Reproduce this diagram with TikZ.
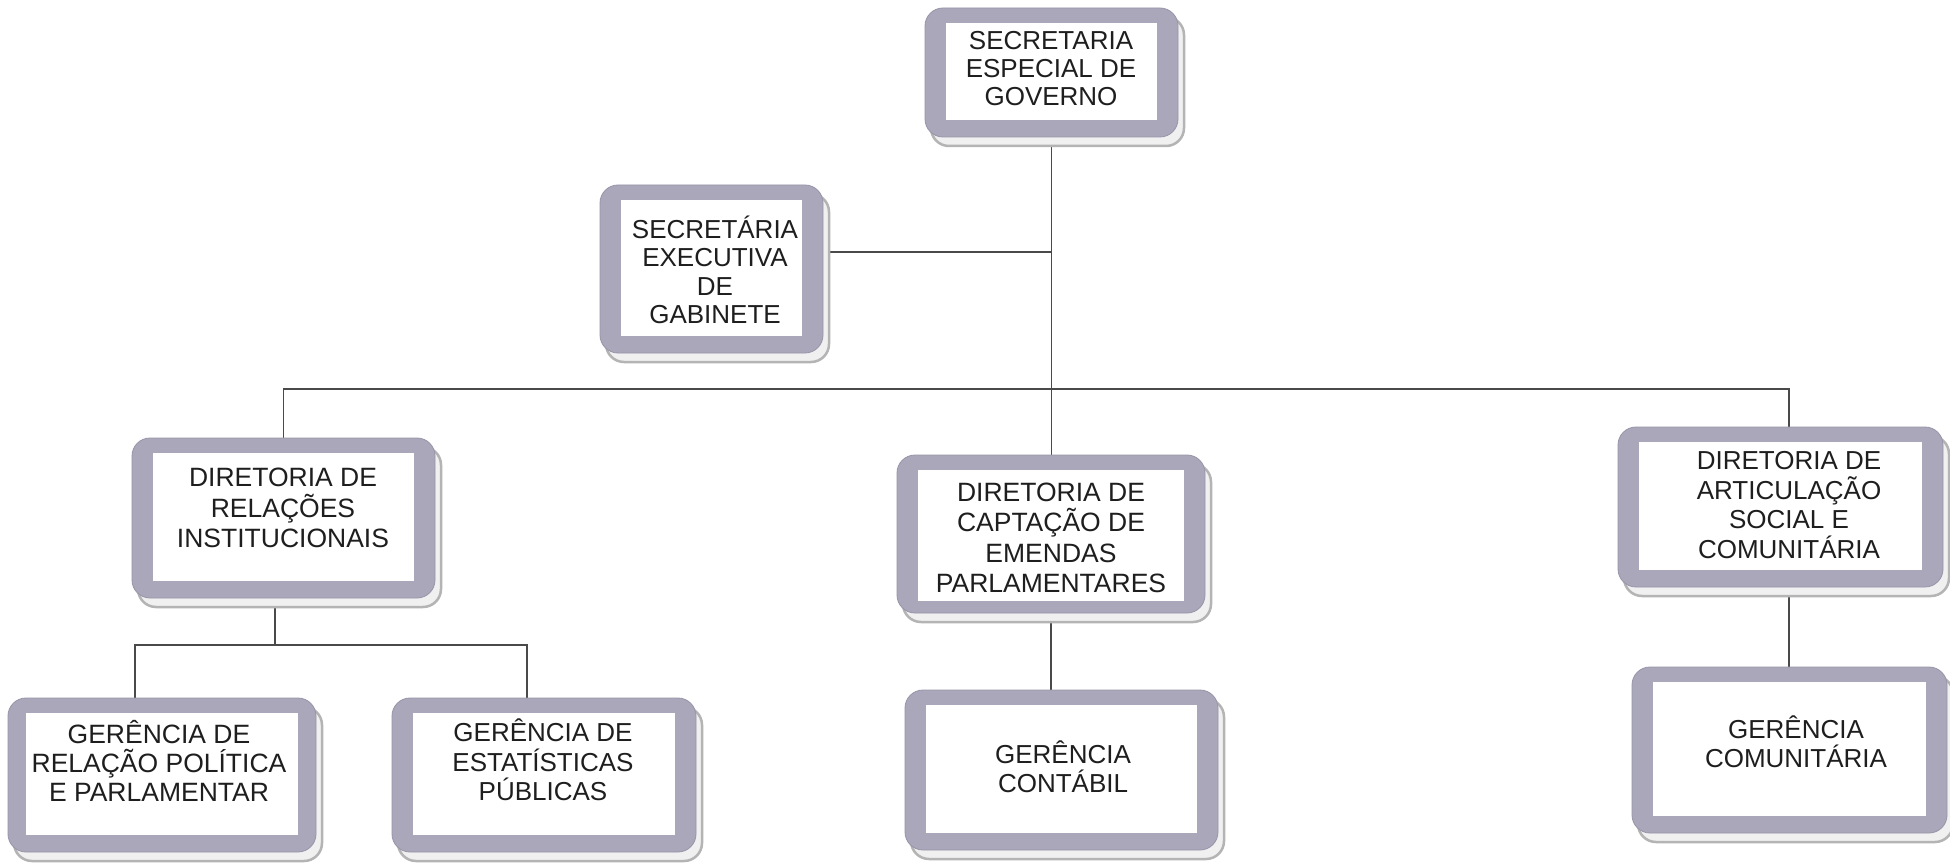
\documentclass[tikz,border=0pt]{standalone}
\usepackage{fontspec}
\setmainfont{Liberation Sans}
\usetikzlibrary{calc}
\pgfdeclarelayer{background}
\pgfsetlayers{background,main}
\definecolor{boxgray}{HTML}{A9A7B9}
\definecolor{boxedge}{HTML}{9794A8}
\definecolor{shadowfill}{HTML}{F0F0F0}
\definecolor{shadowedge}{HTML}{B4B4B4}
\definecolor{linecol}{HTML}{4A4A4A}
\definecolor{textcol}{HTML}{1E1E1E}
\tikzset{
  orgbottom/.store in=\orgbm, orgbottom=17pt,
  orgside/.store in=\orgsd, orgside=21pt,
  orgbox/.style={rectangle, rounded corners=18pt, fill=boxgray, draw=boxedge, line width=0.8pt, inner sep=0pt,
    preaction={draw=shadowedge, line width=2.5pt, fill=shadowfill, transform canvas={shift={(6pt,-9pt)}}},
    path picture={\fill[white, sharp corners] ($(path picture bounding box.south west)+(\orgsd,\orgbm)$) rectangle ($(path picture bounding box.north east)+(-\orgsd,-15pt)$);}},
  orgtext/.style={align=center, inner sep=0pt, text=textcol, font=\fontsize{26}{29.5}\selectfont},
  conn/.style={draw=linecol, line width=1.5pt},
}
\begin{document}
\begin{tikzpicture}[x=1pt,y=-1pt]
\useasboundingbox (0,0) rectangle (1950,866);

% boxes
\node[orgbox, minimum width=253pt, minimum height=129pt] (top) at (1051.5,72.5) {};
\node[orgbox, minimum width=223pt, minimum height=168pt] (exec) at (711.5,269) {};
\node[orgbox, minimum width=303pt, minimum height=160pt] (dirrel) at (283.5,518) {};
\node[orgbox, orgbottom=12pt, minimum width=308pt, minimum height=158pt] (dircapt) at (1051,534) {};
\node[orgbox, minimum width=325pt, minimum height=160pt] (dirart) at (1780.5,507) {};
\node[orgbox, orgside=18pt, minimum width=308pt, minimum height=154pt] (gerpol) at (162,775) {};
\node[orgbox, minimum width=304pt, minimum height=154pt] (gerest) at (544,775) {};
\node[orgbox, minimum width=313pt, minimum height=160pt] (gercont) at (1061.5,770) {};
\node[orgbox, minimum width=315pt, minimum height=166pt] (gercom) at (1789.5,750) {};

% texts
\node[orgtext, font=\fontsize{26}{28}\selectfont] (topt) at (1051,69) {SECRETARIA\\ESPECIAL DE\\GOVERNO};
\node[orgtext, font=\fontsize{26}{28.5}\selectfont] (exect) at (715,270) {SECRETÁRIA\\EXECUTIVA\\DE\\GABINETE};
\node[orgtext, font=\fontsize{26.5}{30.5}\selectfont] (dirrelt) at (283,508) {DIRETORIA DE\\RELAÇÕES\\INSTITUCIONAIS};
\node[orgtext, font=\fontsize{26.5}{30.5}\selectfont] (dircaptt) at (1051,538) {DIRETORIA DE\\CAPTAÇÃO DE\\EMENDAS\\PARLAMENTARES};
\node[orgtext] (dirartt) at (1789,505) {DIRETORIA DE\\ARTICULAÇÃO\\SOCIAL E\\COMUNITÁRIA};
\node[orgtext, font=\fontsize{26.5}{29}\selectfont] (gerpolt) at (159,761) {GERÊNCIA DE\\RELAÇÃO POLÍTICA\\E PARLAMENTAR};
\node[orgtext] (gerestt) at (543,760) {GERÊNCIA DE\\ESTATÍSTICAS\\PÚBLICAS};
\node[orgtext] (gercontt) at (1063,767) {GERÊNCIA\\CONTÁBIL};
\node[orgtext] (gercomt) at (1796,742) {GERÊNCIA\\COMUNITÁRIA};

% junction points
\coordinate (execj) at (1051.5,252);
\coordinate (busR) at (1789,389);
\coordinate (relj) at (275,645);
\coordinate (relL) at (135,645);
\coordinate (relR) at (527,645);

\begin{pgfonlayer}{background}
\fill[white] (0,0) rectangle (1950,866);
\draw[conn] (top.south) -- (top.south |- dircapt.north);
\draw[conn] (exec.east |- execj) -- (execj);
\draw[conn] (dirrel.north) |- (busR) -- (busR |- dirart.north);
\draw[conn] (relj |- dirrel.south) -- (relj);
\draw[conn] (gerpol.north -| relL) -- (relL) -- (relR) -- (gerest.north -| relR);
\draw[conn] (dircapt.south) -- (dircapt.south |- gercont.north);
\draw[conn] (busR |- dirart.south) -- (busR |- gercom.north);
\end{pgfonlayer}
\end{tikzpicture}
\end{document}
